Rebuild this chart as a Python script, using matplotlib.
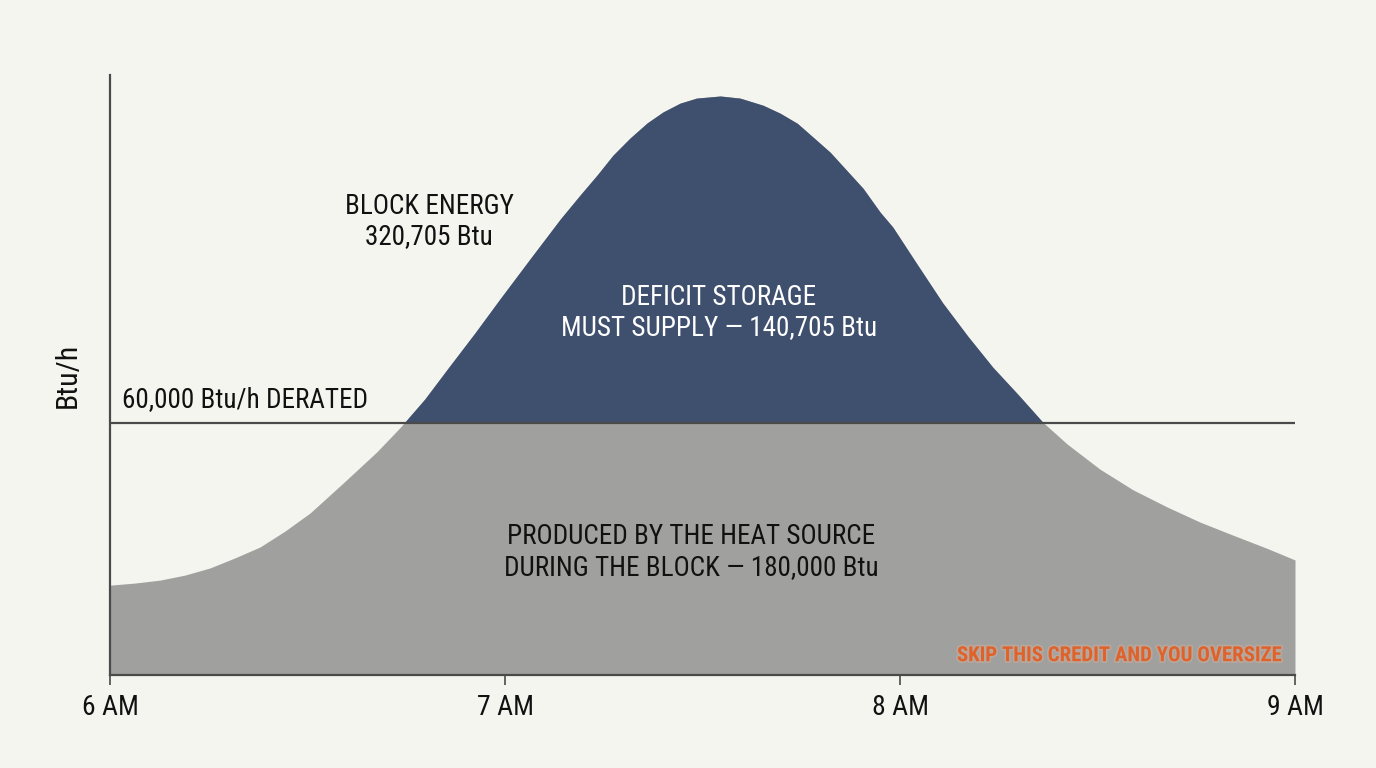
import matplotlib
matplotlib.use("Agg")
import matplotlib.pyplot as plt
import numpy as np
import matplotlib.patheffects as pe

plt.rcParams['font.family'] = ['Liberation Sans Narrow', 'Roboto Condensed', 'DejaVu Sans']

# minutes after 6 AM
minutes = [0, 3.8, 7.6, 11.4, 15.2, 19.0, 22.8, 26.6, 30.4, 35.4, 40.5, 44.1, 47.8,
           51.6, 55.4, 59.2, 63.8, 68.4, 71.4, 74.0, 76.4, 79.0, 81.6, 84.0, 86.6,
           89.1, 92.7, 95.7, 99.2, 101.8, 104.4, 106.8, 109.4, 111.9, 114.4, 117.0,
           118.9, 122.7, 126.5, 130.3, 134.1, 138.0, 141.7, 145.4, 150.4, 155.4,
           160.6, 165.6, 170.6, 175.7, 180]
# load, Btu/h
load = [21400, 21900, 22600, 23800, 25500, 27900, 30500, 34300, 38600, 45700, 53100,
        59000, 65700, 73600, 81400, 89500, 99100, 108600, 114300, 119100, 123800,
        127900, 131500, 134100, 136200, 137400, 137900, 137400, 135700, 133800,
        131400, 128100, 124500, 120200, 115900, 110200, 106700, 97600, 88600, 80700,
        73300, 66700, 60200, 55000, 49000, 44100, 40000, 36400, 33300, 30200, 27400]
capacity = 60000
tick_pos = [0, 60, 120, 180]
tick_labels = ["6 AM", "7 AM", "8 AM", "9 AM"]

BG = "#f5f5f0"
NAVY = "#3f4f6e"
GRAY = "#a0a09e"
AX = "#4a4a4a"

fig = plt.figure(figsize=(13.76, 7.68), dpi=100, facecolor=BG)
ax = fig.add_axes([110/1376, 1-675/768, (1295-110)/1376, (675-75)/768])
ax.set_facecolor(BG)

x = np.array(minutes)
y = np.array(load)
# full load area in gray, deficit above capacity painted over in navy
ax.fill_between(x, 0, y, color=GRAY, lw=0, zorder=1)
ax.fill_between(x, capacity, y, where=y >= capacity, interpolate=True, color=NAVY, lw=0, zorder=2)
ax.axhline(capacity, color=AX, lw=1.6, zorder=3)

ax.set_xlim(0, 180)
ax.set_ylim(0, 142900)
for s in ['top', 'right']:
    ax.spines[s].set_visible(False)
for s in ['left', 'bottom']:
    ax.spines[s].set_color(AX)
    ax.spines[s].set_linewidth(1.6)
    ax.spines[s].set_zorder(4)
ax.set_yticks([])
ax.set_xticks(tick_pos)
ax.set_xticklabels(tick_labels, fontsize=20, color="#111111")
ax.tick_params(axis='x', length=7, width=1.2, color=AX, pad=7)
ax.set_ylabel("Btu/h", fontsize=21.5, color="#111111")
ax.yaxis.set_label_coords(-0.0235, 0.5)

ax.text(48.5, 108100, "BLOCK ENERGY\n320,705 Btu", ha='center', va='center',
        fontsize=19.5, color="#111111", linespacing=1.15)
ax.text(1.8, capacity + 2500, "60,000 Btu/h DERATED", ha='left', va='bottom',
        fontsize=19.5, color="#111111")
ax.text(92.5, 86300, "DEFICIT STORAGE\nMUST SUPPLY — 140,705 Btu", ha='center', va='center',
        fontsize=19.5, color="white", linespacing=1.15, zorder=5)
ax.text(88.3, 29300, "PRODUCED BY THE HEAT SOURCE\nDURING THE BLOCK — 180,000 Btu", ha='center',
        va='center', fontsize=19.5, color="#111111", linespacing=1.15, zorder=5)
ax.text(178.2, 4600, "SKIP THIS CREDIT AND YOU OVERSIZE", ha='right', va='center',
        fontsize=15, color="#e0622a", fontweight='bold', zorder=5,
        path_effects=[pe.withStroke(linewidth=2.5, foreground="#b8a79c")])

fig.savefig("out.png", dpi=100, facecolor=BG)
